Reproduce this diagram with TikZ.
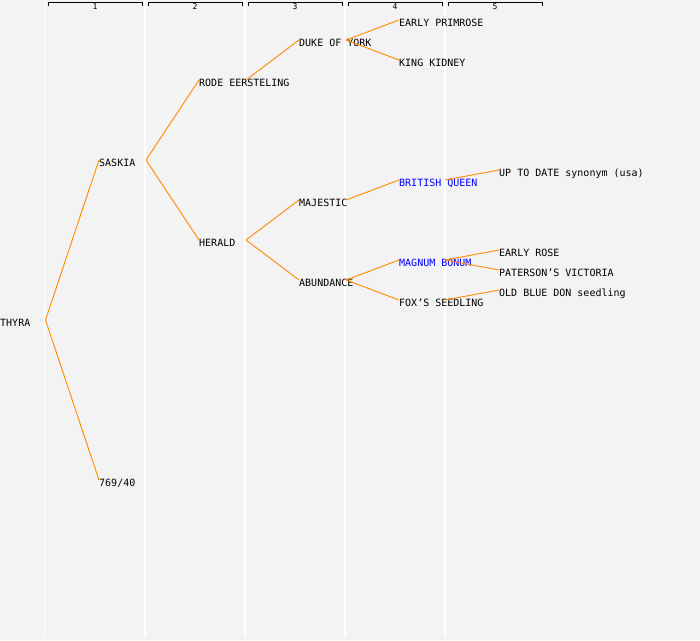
\documentclass[tikz,border=0pt]{standalone}
\usepackage{fontspec}
\newfontfamily\treefont{DejaVu Sans Mono}
\definecolor{bg}{RGB}{243,243,243}
\definecolor{edge}{RGB}{255,136,0}
\definecolor{hl}{RGB}{0,0,255}
\begin{document}
\begin{tikzpicture}[x=1pt,y=-1pt,
  lbl/.style={anchor=base west,inner sep=0pt,font=\treefont\fontsize{10}{10}\selectfont,text=black},
  blue lbl/.style={lbl,text=hl},
  colnum/.style={inner sep=0pt,font=\treefont\fontsize{8}{8}\selectfont},
  link/.style={draw=edge,line width=0.9pt},
  gridline/.style={draw=white,line width=1.4pt},
  bracket/.style={draw=black,line width=1pt}]
\fill[bg] (0,0) rectangle (700,640);
\useasboundingbox (0,0) rectangle (700,640);
% column lines
\foreach \x in {44.5,145,245,345,445} \draw[gridline] (\x,0) -- (\x,638);
% header brackets
\foreach \i/\a/\b in {1/48/142,2/148/242,3/248/342,4/348/442,5/448/542}{
  \draw[bracket] (\a,5.5) -- (\a,2) -- (\b,2) -- (\b,5.5);
  \node[colnum] (h\i) at ({(\a+\b)/2},6.5) {\i};
}
% nodes (baseline = centre + 4)
\node[lbl] (thyra) at (0,326) {THYRA};
\node[lbl] (saskia) at (99,166) {SASKIA};
\node[lbl] (n769) at (99,486) {769/40};
\node[lbl] (rode) at (199,86) {RODE EERSTELING};
\node[lbl] (herald) at (199,246) {HERALD};
\node[lbl] (duke) at (299,46) {DUKE OF YORK};
\node[lbl] (majestic) at (299,206) {MAJESTIC};
\node[lbl] (abundance) at (299,286) {ABUNDANCE};
\node[lbl] (primrose) at (399,26) {EARLY PRIMROSE};
\node[lbl] (kidney) at (399,66) {KING KIDNEY};
\node[blue lbl] (british) at (399,186) {BRITISH QUEEN};
\node[blue lbl] (magnum) at (399,266) {MAGNUM BONUM};
\node[lbl] (fox) at (399,306) {FOX’S SEEDLING};
\node[lbl] (uptodate) at (499,176) {UP TO DATE synonym (usa)};
\node[lbl] (earlyrose) at (499,256) {EARLY ROSE};
\node[lbl] (paterson) at (499,276) {PATERSON’S VICTORIA};
\node[lbl] (oldblue) at (499,296) {OLD BLUE DON seedling};
% attachment points
\coordinate (thyra-o) at (45.5,320);
\coordinate (saskia-i) at (99,160);   \coordinate (saskia-o) at (146,160);
\coordinate (n769-i) at (99,480);
\coordinate (rode-i) at (199,80);     \coordinate (rode-o) at (246,80);
\coordinate (herald-i) at (199,240);  \coordinate (herald-o) at (246,240);
\coordinate (duke-i) at (299,40);     \coordinate (duke-o) at (346,40);
\coordinate (majestic-i) at (299,200);\coordinate (majestic-o) at (346,200);
\coordinate (abundance-i) at (299,280);\coordinate (abundance-o) at (346,280);
\coordinate (primrose-i) at (399,20);
\coordinate (kidney-i) at (399,60);
\coordinate (british-i) at (399,180); \coordinate (british-o) at (445,180);
\coordinate (magnum-i) at (399,260);  \coordinate (magnum-o) at (445,260);
\coordinate (fox-i) at (399,300);     \coordinate (fox-o) at (445,300);
\coordinate (uptodate-i) at (499,170);
\coordinate (earlyrose-i) at (499,250);
\coordinate (paterson-i) at (499,270);
\coordinate (oldblue-i) at (499,290);
% connectors
\draw[link] (thyra-o) -- (saskia-i);
\draw[link] (thyra-o) -- (n769-i);
\draw[link] (saskia-o) -- (rode-i);
\draw[link] (saskia-o) -- (herald-i);
\draw[link] (rode-o) -- (duke-i);
\draw[link] (herald-o) -- (majestic-i);
\draw[link] (herald-o) -- (abundance-i);
\draw[link] (duke-o) -- (primrose-i);
\draw[link] (duke-o) -- (kidney-i);
\draw[link] (majestic-o) -- (british-i);
\draw[link] (abundance-o) -- (magnum-i);
\draw[link] (abundance-o) -- (fox-i);
\draw[link] (british-o) -- (uptodate-i);
\draw[link] (magnum-o) -- (earlyrose-i);
\draw[link] (magnum-o) -- (paterson-i);
\draw[link] (fox-o) -- (oldblue-i);
\end{tikzpicture}
\end{document}
